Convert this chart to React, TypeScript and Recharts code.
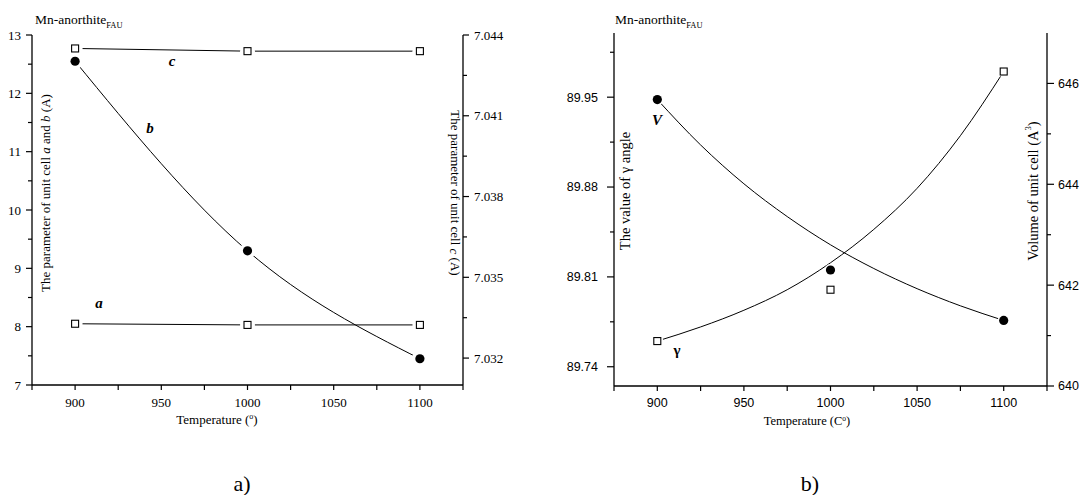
import React from 'react';
import { ComposedChart, Line, XAxis, YAxis } from 'recharts';

// ---------- data ----------
const temperatures = [900, 1000, 1100];
const cellA = [8.05, 8.03, 8.03];
const cellB = [12.55, 9.3, 7.45];
const cellC = [7.0435, 7.0434, 7.0434];

const gammaAngle = [89.76, 89.8, 89.97];
const cellVolume = [645.68, 642.3, 641.3];

const fitTemperatures = [900, 925, 950, 975, 1000, 1025, 1050, 1075, 1100];
const gammaFit = [89.76, 89.771, 89.784, 89.8, 89.821, 89.847, 89.879, 89.92, 89.97];
const volumeFit = [645.68, 644.78, 644.01, 643.36, 642.8, 642.33, 641.93, 641.59, 641.3];

// ---------- ticks ----------
const xMajor = [900, 950, 1000, 1050, 1100];
const xMinor = [875, 925, 975, 1025, 1075, 1125];
const abMajor = [7, 8, 9, 10, 11, 12, 13];
const abMinor = [7.5, 8.5, 9.5, 10.5, 11.5, 12.5];
const cMajor = [7.032, 7.035, 7.038, 7.041, 7.044];
const cMinor = [7.0335, 7.0365, 7.0395, 7.0425];
const gammaMajor = [89.74, 89.81, 89.88, 89.95];
const gammaMinor = [89.775, 89.845, 89.915, 89.985];
const volMajor = [640, 642, 644, 646];
const volMinor = [641, 643, 645];

const leftData = temperatures.map((t, i) => ({ t, a: cellA[i], b: cellB[i], c: cellC[i] }));
const rightData = fitTemperatures.map((t, i) => {
  const k = temperatures.indexOf(t);
  return {
    t,
    gFit: gammaFit[i],
    vFit: volumeFit[i],
    g: k >= 0 ? gammaAngle[k] : null,
    v: k >= 0 ? cellVolume[k] : null,
  };
});

const SERIF = '"Liberation Serif", "Times New Roman", serif';
const SANS = '"Liberation Sans", Arial, sans-serif';
const AXIS = { stroke: '#000', strokeWidth: 1.3 };

const isIn = (arr: number[], v: number) => arr.some((m) => Math.abs(m - v) < 1e-7);

type TickOpts = {
  side: 'bottom' | 'top' | 'left' | 'right';
  majors: number[];
  majorLen: number;
  minorLen: number;
  showLabel: boolean;
  font: string;
  size: number;
  gap: number;
  fmt: (v: number) => string;
};

const makeTick = (o: TickOpts) => (props: any) => {
  const { x, y, payload } = props;
  const v = payload.value;
  const major = isIn(o.majors, v);
  const len = major ? o.majorLen : o.minorLen;
  const s = { stroke: '#000', strokeWidth: 1.2 };
  let line: any = null;
  let label: any = null;
  const txt = { fontFamily: o.font, fontSize: o.size, fill: '#000' };
  if (o.side === 'bottom') {
    line = <line x1={x} y1={y} x2={x} y2={y + len} {...s} />;
    if (major && o.showLabel)
      label = (
        <text x={x} y={y + o.gap} textAnchor="middle" {...txt}>
          {o.fmt(v)}
        </text>
      );
  } else if (o.side === 'top') {
    line = <line x1={x} y1={y} x2={x} y2={y + len} {...s} />;
  } else if (o.side === 'left') {
    line = <line x1={x - len} y1={y} x2={x} y2={y} {...s} />;
    if (major && o.showLabel)
      label = (
        <text x={x - o.gap} y={y} dy="0.35em" textAnchor="end" {...txt}>
          {o.fmt(v)}
        </text>
      );
  } else {
    line = <line x1={x} y1={y} x2={x + len} y2={y} {...s} />;
    if (major && o.showLabel)
      label = (
        <text x={x + o.gap} y={y} dy="0.35em" textAnchor="start" {...txt}>
          {o.fmt(v)}
        </text>
      );
  }
  return (
    <g>
      {line}
      {label}
    </g>
  );
};

const SquareDot = (halo: number) => (props: any) => {
  const { cx, cy, value, index } = props;
  if (cx == null || cy == null || value == null || Number.isNaN(cy)) return <g key={`s${index}`} />;
  return (
    <g key={`s${index}`}>
      <circle cx={cx} cy={cy} r={halo} fill="#fff" />
      <rect x={cx - 3.5} y={cy - 3.5} width={7} height={7} fill="#fff" stroke="#000" strokeWidth={1.1} />
    </g>
  );
};

const CircleDot = (halo: number) => (props: any) => {
  const { cx, cy, value, index } = props;
  if (cx == null || cy == null || value == null || Number.isNaN(cy)) return <g key={`c${index}`} />;
  return (
    <g key={`c${index}`}>
      <circle cx={cx} cy={cy} r={halo} fill="#fff" />
      <circle cx={cx} cy={cy} r={4.6} fill="#000" />
    </g>
  );
};

const intFmt = (v: number) => String(Math.round(v));

function LeftChart() {
  return (
    <ComposedChart
      width={540}
      height={495}
      data={leftData}
      margin={{ top: 35, right: 0, bottom: 0, left: 0 }}
    >
      <XAxis
        dataKey="t"
        type="number"
        domain={[875, 1125]}
        allowDataOverflow
        ticks={[...xMajor, ...xMinor].sort((p, q) => p - q)}
        interval={0}
        height={110}
        axisLine={AXIS}
        tickLine={false}
        tickSize={0}
        tickMargin={0}
        tick={makeTick({ side: 'bottom', majors: xMajor, majorLen: 5, minorLen: 5, showLabel: true, font: SERIF, size: 13, gap: 22, fmt: intFmt })}
      />
      <XAxis
        xAxisId="top"
        dataKey="t"
        type="number"
        orientation="top"
        domain={[875, 1125]}
        allowDataOverflow
        ticks={[...xMajor, ...xMinor].sort((p, q) => p - q)}
        interval={0}
        height={0}
        axisLine={AXIS}
        tickLine={false}
        tickSize={0}
        tickMargin={0}
        tick={makeTick({ side: 'top', majors: xMajor, majorLen: 7, minorLen: 4, showLabel: false, font: SERIF, size: 12, gap: 0, fmt: intFmt })}
      />
      <YAxis
        yAxisId="ab"
        type="number"
        domain={[7, 13]}
        allowDataOverflow
        ticks={[...abMajor, ...abMinor].sort((p, q) => p - q)}
        interval={0}
        width={32}
        axisLine={AXIS}
        tickLine={false}
        tickSize={0}
        tickMargin={0}
        tick={makeTick({ side: 'left', majors: abMajor, majorLen: 6, minorLen: 4, showLabel: true, font: SERIF, size: 13, gap: 11, fmt: intFmt })}
      />
      <YAxis
        yAxisId="c"
        orientation="right"
        type="number"
        domain={[7.031, 7.044]}
        allowDataOverflow
        ticks={[...cMajor, ...cMinor].sort((p, q) => p - q)}
        interval={0}
        width={77}
        axisLine={AXIS}
        tickLine={false}
        tickSize={0}
        tickMargin={0}
        tick={makeTick({ side: 'right', majors: cMajor, majorLen: 6, minorLen: 4, showLabel: true, font: SERIF, size: 13, gap: 11, fmt: (v) => v.toFixed(3) })}
      />
      <Line yAxisId="ab" dataKey="a" type="linear" stroke="#000" strokeWidth={1} dot={SquareDot(7.5)} isAnimationActive={false} />
      <Line yAxisId="ab" dataKey="b" type="natural" stroke="#000" strokeWidth={1} dot={CircleDot(8)} isAnimationActive={false} />
      <Line yAxisId="c" dataKey="c" type="linear" stroke="#000" strokeWidth={1} dot={SquareDot(7.5)} isAnimationActive={false} />
    </ComposedChart>
  );
}

function RightChart() {
  return (
    <ComposedChart
      width={546}
      height={495}
      data={rightData}
      margin={{ top: 33, right: 0, bottom: 0, left: 0 }}
    >
      <XAxis
        dataKey="t"
        type="number"
        domain={[875, 1125]}
        allowDataOverflow
        ticks={[...xMajor, ...xMinor].sort((p, q) => p - q)}
        interval={0}
        height={109}
        axisLine={AXIS}
        tickLine={false}
        tickSize={0}
        tickMargin={0}
        tick={makeTick({ side: 'bottom', majors: xMajor, majorLen: 5, minorLen: 5, showLabel: true, font: SANS, size: 12.5, gap: 21, fmt: intFmt })}
      />
      <XAxis
        xAxisId="top"
        dataKey="t"
        type="number"
        orientation="top"
        domain={[875, 1125]}
        allowDataOverflow
        ticks={[...xMajor, ...xMinor].sort((p, q) => p - q)}
        interval={0}
        height={0}
        axisLine={AXIS}
        tickLine={false}
        tickSize={0}
        tickMargin={0}
        tick={makeTick({ side: 'top', majors: xMajor, majorLen: 7, minorLen: 4, showLabel: false, font: SANS, size: 12, gap: 0, fmt: intFmt })}
      />
      <YAxis
        yAxisId="g"
        type="number"
        domain={[89.725, 90.0]}
        allowDataOverflow
        ticks={[...gammaMajor, ...gammaMinor].sort((p, q) => p - q)}
        interval={0}
        width={74}
        axisLine={AXIS}
        tickLine={false}
        tickSize={0}
        tickMargin={0}
        tick={makeTick({ side: 'left', majors: gammaMajor, majorLen: 7, minorLen: 4, showLabel: true, font: SANS, size: 12.5, gap: 16, fmt: (v) => v.toFixed(2) })}
      />
      <YAxis
        yAxisId="v"
        orientation="right"
        type="number"
        domain={[640, 647]}
        allowDataOverflow
        ticks={[...volMajor, ...volMinor].sort((p, q) => p - q)}
        interval={0}
        width={39}
        axisLine={AXIS}
        tickLine={false}
        tickSize={0}
        tickMargin={0}
        tick={makeTick({ side: 'right', majors: volMajor, majorLen: 7, minorLen: 4, showLabel: true, font: SANS, size: 12.5, gap: 11, fmt: intFmt })}
      />
      <Line yAxisId="g" dataKey="gFit" type="monotone" stroke="#000" strokeWidth={1} dot={false} isAnimationActive={false} />
      <Line yAxisId="v" dataKey="vFit" type="monotone" stroke="#000" strokeWidth={1} dot={false} isAnimationActive={false} />
      <Line yAxisId="g" dataKey="g" stroke="none" dot={SquareDot(6)} isAnimationActive={false} />
      <Line yAxisId="v" dataKey="v" stroke="none" dot={CircleDot(6)} isAnimationActive={false} />
    </ComposedChart>
  );
}

function Annotations() {
  const serif = { fontFamily: SERIF, fill: '#000' };
  const lab = { fontFamily: SERIF, fontWeight: 'bold' as const, fontStyle: 'italic' as const, fontSize: 15, fill: '#000' };
  return (
    <svg width={1086} height={495} style={{ position: 'absolute', left: 0, top: 0, pointerEvents: 'none' }}>
      {/* left chart */}
      <text x={35} y={24} fontSize={13.5} {...serif}>
        Mn-anorthite
        <tspan fontSize={8.5} dy={4}>FAU</tspan>
      </text>
      <text x={45} y={193} fontSize={13} textAnchor="middle" dominantBaseline="central" transform="rotate(-90 45 193)" {...serif}>
        The parameter of unit cell <tspan fontStyle="italic">a</tspan> and <tspan fontStyle="italic">b</tspan> (A)
      </text>
      <text x={455} y={193} fontSize={13} textAnchor="middle" dominantBaseline="central" transform="rotate(90 455 193)" {...serif}>
        The parameter of unit cell <tspan fontStyle="italic">c</tspan> (A)
      </text>
      <text x={217} y={424} fontSize={13} textAnchor="middle" {...serif}>
        Temperature (<tspan fontSize={8} dy={-5}>o</tspan><tspan dy={5}>)</tspan>
      </text>
      <text x={242} y={491} fontSize={22} textAnchor="middle" {...serif}>a)</text>
      <text x={172} y={66} textAnchor="middle" {...lab}>c</text>
      <text x={150} y={133} textAnchor="middle" {...lab}>b</text>
      <text x={99} y={308} textAnchor="middle" {...lab}>a</text>

      {/* right chart */}
      <text x={615} y={24} fontSize={13.5} {...serif}>
        Mn-anorthite
        <tspan fontSize={8.5} dy={4}>FAU</tspan>
      </text>
      <text x={625} y={191} fontSize={14.5} textAnchor="middle" dominantBaseline="central" transform="rotate(-90 625 191)" {...serif}>
        The value of γ angle
      </text>
      <text x={1033} y={191} fontSize={14.5} textAnchor="middle" dominantBaseline="central" transform="rotate(-90 1033 191)" {...serif}>
        Volume of unit cell (A<tspan fontSize={8.5} dy={-5}>3</tspan><tspan dy={5}>)</tspan>
      </text>
      <text x={807} y={425} fontSize={12.5} textAnchor="middle" {...serif}>
        Temperature (C<tspan fontSize={7.5} dy={-4}>o</tspan><tspan dy={4}>)</tspan>
      </text>
      <text x={810} y={491} fontSize={22} textAnchor="middle" {...serif}>b)</text>
      <text x={657} y={125} textAnchor="middle" {...lab}>V</text>
      <text x={677} y={355} textAnchor="middle" fontFamily={SERIF} fontWeight="bold" fontSize={15} fill="#000">γ</text>
    </svg>
  );
}

export default function App() {
  return (
    <div style={{ position: 'absolute', left: 0, top: 0, width: 1086, height: 495, background: '#fff', overflow: 'hidden' }}>
      <div style={{ position: 'absolute', left: 0, top: 0 }}>
        <LeftChart />
      </div>
      <div style={{ position: 'absolute', left: 540, top: 0 }}>
        <RightChart />
      </div>
      <Annotations />
    </div>
  );
}
